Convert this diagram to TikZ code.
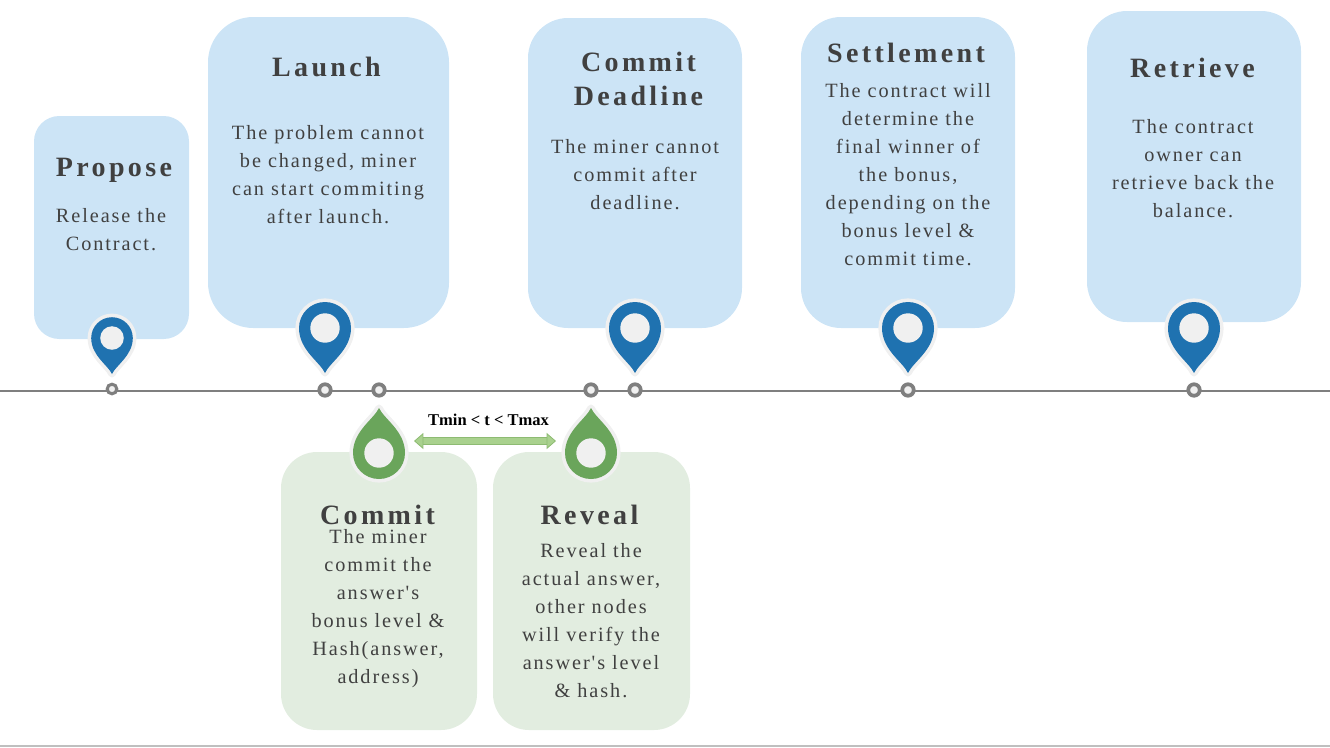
\documentclass[tikz,border=0pt]{standalone}
\usepackage{fontspec}
\usepackage{xcolor}
\usetikzlibrary{arrows.meta, positioning}
\newfontfamily\titlefont[LetterSpace=12]{Liberation Serif}
\newfontfamily\bodyfont[LetterSpace=9.5]{Liberation Serif}
\newfontfamily\rangefont{Liberation Serif}
\definecolor{skyfill}{HTML}{CCE4F6}
\definecolor{sagefill}{HTML}{E2EDE0}
\definecolor{pinblue}{HTML}{1F72B0}
\definecolor{pingreen}{HTML}{6AA55B}
\definecolor{halo}{HTML}{F0F0F0}
\definecolor{axisgray}{HTML}{7F7F7F}
\definecolor{inkgray}{HTML}{404040}
\definecolor{spanfill}{HTML}{A9D18E}
\definecolor{spanedge}{HTML}{8DBB72}
\tikzset{
  pics/mapmark/.style={code={
    \path[draw=halo, line width=5.4pt, line join=round, fill=halo]
      (0,45) .. controls (-5,34) and (-26,22) .. (-26,0)
      arc[start angle=180, end angle=360, radius=26]
      .. controls (26,22) and (5,34) .. (0,45) -- cycle;
    \fill[#1]
      (0,45) .. controls (-5,34) and (-26,22) .. (-26,0)
      arc[start angle=180, end angle=360, radius=26]
      .. controls (26,22) and (5,34) .. (0,45) -- cycle;
    \fill[halo] (0,0) circle[radius=14.7];
  }},
}

\begin{document}
\begin{tikzpicture}[
    x=0.75pt, y=-0.75pt,
    card/.style={rectangle, inner sep=0pt, minimum width=#1},
    skycard/.style={card=#1, fill=skyfill},
    sagecard/.style={card=#1, fill=sagefill},
    heading/.style={font=\titlefont\bfseries\fontsize{21pt}{25pt}\selectfont, text=inkgray, align=center},
    blurb/.style={font=\bodyfont\fontsize{15.2pt}{21pt}\selectfont, text=inkgray, align=center},
    tick/.style={circle, draw=axisgray, fill=halo, line width=2.8pt, inner sep=0pt, minimum size=8.6pt},
    axis/.style={draw=axisgray, line width=1.6pt},
    span/.style={draw=spanedge, double=spanfill, double distance=5.2pt, line width=0.6pt,
                 {Triangle[length=7pt, width=12pt, fill=spanfill]}-{Triangle[length=7pt, width=12pt, fill=spanfill]}},
  ]
  \useasboundingbox (0,0) rectangle (1330,747);

  % Upper cards
  \node[skycard=116.25pt, minimum height=167.25pt, rounded corners=19pt] (proposecard) at (111.5,227.5) {};
  \node[skycard=180.75pt, minimum height=233.25pt, rounded corners=34pt] (launchcard) at (328.5,172.5) {};
  \node[skycard=160.5pt, minimum height=232.5pt, rounded corners=30pt] (deadlinecard) at (635,173) {};
  \node[skycard=160.5pt, minimum height=233.25pt, rounded corners=30pt] (settlecard) at (908,172.5) {};
  \node[skycard=160.5pt, minimum height=233.25pt, rounded corners=30pt] (retrievecard) at (1194,166.5) {};

  % Lower cards
  \node[sagecard=147pt, minimum height=208.5pt, rounded corners=27pt] (commitcard) at (379,591) {};
  \node[sagecard=147.75pt, minimum height=208.5pt, rounded corners=27pt] (revealcard) at (591.5,591) {};

  % Timeline
  \coordinate (axisstart) at (0,391);
  \coordinate (axisend) at (1330,391);
  \draw[axis] (axisstart) -- (axisend);
  \coordinate (pagestart) at (0,746);
  \coordinate (pageend) at (1330,746);
  \draw[draw=black!25, line width=1.2pt] (pagestart) -- (pageend);

  \node[tick, minimum size=7.2pt, line width=2.3pt] (tickpropose) at (112,389) {};
  \node[tick] (ticklaunch) at (325,390) {};
  \node[tick] (tickcommit) at (379,390) {};
  \node[tick] (tickreveal) at (591,390) {};
  \node[tick] (tickdeadline) at (635,390) {};
  \node[tick] (ticksettle) at (908,390) {};
  \node[tick] (tickretrieve) at (1194,390) {};

  % Pins
  \pic[scale=0.8] at (112,338) {mapmark=pinblue};
  \pic at (325,328) {mapmark=pinblue};
  \pic at (635,328) {mapmark=pinblue};
  \pic at (908,328) {mapmark=pinblue};
  \pic at (1194,328) {mapmark=pinblue};
  \pic[rotate=180] at (379,453) {mapmark=pingreen};
  \pic[rotate=180] at (591,453) {mapmark=pingreen};

  % Commit to reveal window
  \coordinate (spanleft) at (414,441);
  \coordinate (spanright) at (556,441);
  \draw[span] (spanleft) -- (spanright);
  \node[font=\rangefont\bfseries\fontsize{12.4pt}{14pt}\selectfont, text=black] (spanlabel) at (488.5,420) {Tmin < t < Tmax};

  % Headings
  \node[heading] (proposetitle) at (114,170) {Propose};
  \node[heading] (launchtitle) at (326.5,67) {Launch};
  \node[heading] (deadlinetitle) at (638.5,79) {Commit\\Deadline};
  \node[heading] (settletitle) at (906,53) {Settlement};
  \node[heading] (retrievetitle) at (1192.5,68) {Retrieve};
  \node[heading] (committitle) at (377.5,515) {Commit};
  \node[heading] (revealtitle) at (589.5,515) {Reveal};

  % Descriptions
  \node[blurb] (proposetext) at (111,230) {Release the\\Contract.};
  \node[blurb] (launchtext) at (328,175) {The problem cannot\\be changed, miner\\can start commiting\\after launch.};
  \node[blurb] (deadlinetext) at (635,175) {The miner cannot\\commit after\\deadline.};
  \node[blurb] (settletext) at (908,175) {The contract will\\determine the\\final winner of\\the bonus,\\depending on the\\bonus level \&\\commit time.};
  \node[blurb] (retrievetext) at (1193,169) {The contract\\owner can\\retrieve back the\\balance.};
  \node[blurb] (committext) at (378,609) {The miner\\commit the\\answer's\\bonus level \&\\Hash(answer,\\address)};
  \node[blurb] (revealtext) at (591,621) {Reveal the\\actual answer,\\other nodes\\will verify the\\answer's level\\\& hash.};

\end{tikzpicture}
\end{document}
